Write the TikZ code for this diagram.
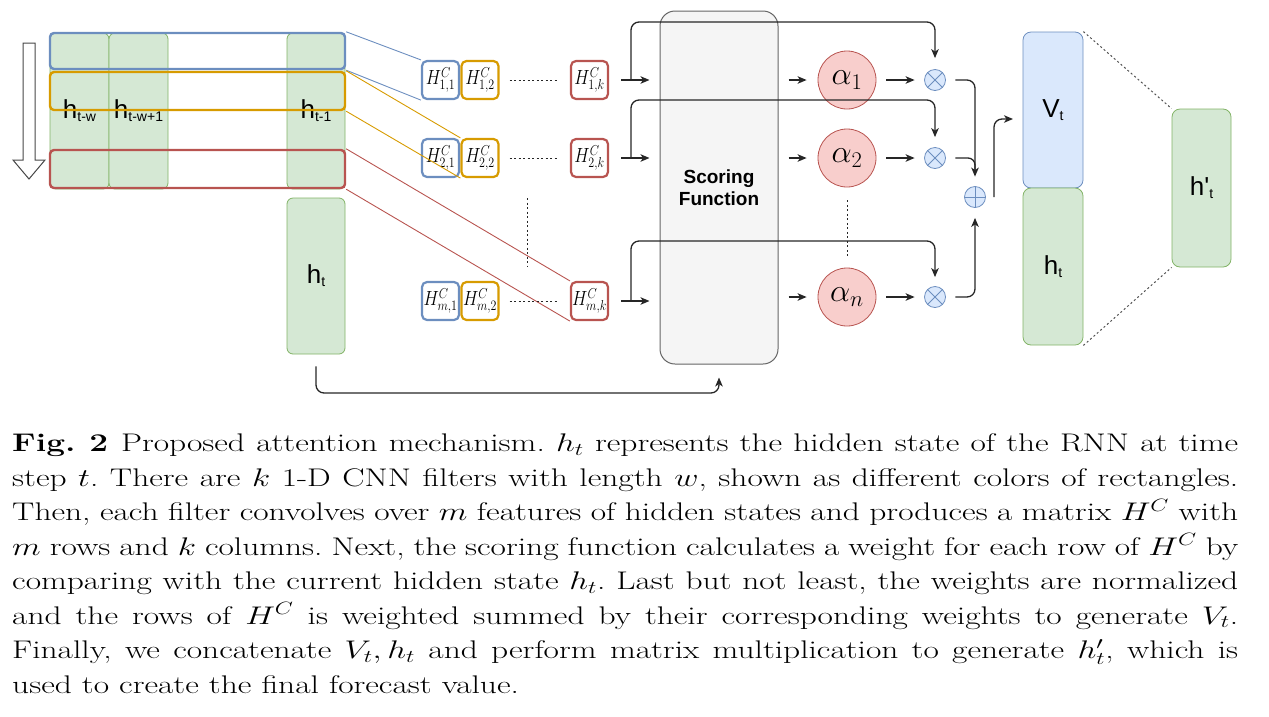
\RequirePackage{fix-cm}
\documentclass[tikz,border=0pt]{standalone}
\usepackage{graphicx}
\usepackage{fontspec}
\newfontfamily\lsans{Liberation Sans}
\newfontfamily\capfont{lmroman17-regular.otf}[BoldFont=lmroman12-bold.otf, ItalicFont=lmroman12-italic.otf, FakeStretch=1.31]
\usetikzlibrary{arrows.meta,calc}
\definecolor{gfill}{HTML}{D5E8D4}\definecolor{gline}{HTML}{82B366}
\definecolor{bfill}{HTML}{DAE8FC}\definecolor{bline}{HTML}{6C8EBF}
\definecolor{rfill}{HTML}{F8CECC}\definecolor{rline}{HTML}{B85450}
\definecolor{oline}{HTML}{D79B00}
\definecolor{sfill}{HTML}{F5F5F5}\definecolor{sline}{HTML}{666666}
\definecolor{ink}{HTML}{262626}
\newcommand{\lsub}[1]{\raisebox{-3pt}{\fontsize{14}{14}\selectfont #1}}
\newcommand{\hclabel}[1]{\scalebox{0.84}[1]{#1}}
\newcommand{\capm}[1]{\scalebox{1.31}[1]{$#1$}}
\begin{document}
\begin{tikzpicture}[x=1pt,y=-1pt,
 colbox/.style={draw=gline, fill=gfill, rounded corners=6pt, minimum width=59pt, minimum height=156pt, inner sep=0pt, line width=0.8pt, font=\lsans\fontsize{26}{26}\selectfont},
 filt/.style={rounded corners=4pt, line width=2.4pt, minimum width=295pt, inner sep=0pt},
 hcbox/.style={fill=white, rounded corners=5pt, line width=2.2pt, minimum width=37pt, minimum height=38pt, inner sep=0pt},
 hclab/.style={label={[inner sep=0pt, font=\fontsize{20.5}{21}\selectfont]center:\hclabel{#1}}},
 linkline/.style={line width=0.9pt},
 ln/.style={draw=ink, line width=1.3pt},
 arr/.style={draw=ink, line width=1.3pt, -{Stealth[length=9pt,width=7.5pt,inset=2.5pt]}},
 dotline/.style={draw=ink, line width=1pt, dash pattern=on 2pt off 2.5pt},
 alphanode/.style={circle, draw=rline, fill=rfill, line width=0.8pt, minimum size=58pt, inner sep=0pt, font=\fontsize{32}{34}\selectfont},
 opnode/.style={circle, draw=bline, fill=bfill, line width=0.8pt, minimum size=21pt, inner sep=0pt},
 crossline/.style={draw=bline, line width=0.8pt},
]
\useasboundingbox (0,0) rectangle (1269,716);

% hidden state columns
\node[colbox] (cA) at (79.5,111) {h\lsub{t-w}};
\node[colbox] (cB) at (138.5,111) {h\lsub{t-w+1}};
\node[colbox, minimum width=58pt] (cC) at (316,111) {h\lsub{t-1}};
\node[colbox, minimum width=58pt] (hL) at (316,276) {h\lsub{t}};

% filters
\node[filt, draw=bline, minimum height=36pt] (fB) at (197.5,51) {};
\node[filt, draw=oline, minimum height=38pt] (fO) at (197.5,91) {};
\node[filt, draw=rline, minimum height=38pt] (fR) at (197.5,169) {};

% hollow down arrow
\draw[draw=ink!85, fill=white, line width=1pt] (23,43) -- (35,43) -- (35,160) -- (45,160) -- (29,179) -- (13,160) -- (23,160) -- cycle;

% H^C boxes
\node[hcbox, draw=bline, hclab={$H^C_{1,1}$}] (h11) at (440.5,80) {};
\node[hcbox, draw=oline, hclab={$H^C_{1,2}$}] (h12) at (480,80) {};
\node[hcbox, draw=rline, hclab={$H^C_{1,k}$}] (h1k) at (589.5,80) {};
\node[hcbox, draw=bline, hclab={$H^C_{2,1}$}] (h21) at (440.5,158) {};
\node[hcbox, draw=oline, hclab={$H^C_{2,2}$}] (h22) at (480,158) {};
\node[hcbox, draw=rline, hclab={$H^C_{2,k}$}] (h2k) at (589.5,158) {};
\node[hcbox, draw=bline, hclab={$H^C_{m,1}$}] (hm1) at (440.5,301) {};
\node[hcbox, draw=oline, hclab={$H^C_{m,2}$}] (hm2) at (480,301) {};
\node[hcbox, draw=rline, hclab={$H^C_{m,k}$}] (hmk) at (589.5,301) {};

% filter links
\draw[linkline, bline] (fB.north east) -- (h11.north west);
\draw[linkline, bline] (fB.south east) -- (h11.south west);
\draw[linkline, oline] (fO.north east) -- (h22.north west);
\draw[linkline, oline] (fO.south east) -- (h22.south west);
\draw[linkline, rline] (fR.north east) -- (hmk.north west);
\draw[linkline, rline] (fR.south east) -- (hmk.south west);

% dotted
\draw[dotline, shorten <=10pt, shorten >=12pt] (h12) -- (h1k);
\draw[dotline, shorten <=10pt, shorten >=12pt] (h22) -- (h2k);
\draw[dotline, shorten <=10pt, shorten >=12pt] (hm2) -- (hmk);
\coordinate (vd1) at (527,198); \coordinate (vd2) at (527,267);
\draw[dotline] (vd1) -- (vd2);

% scoring function
\node[draw=sline, fill=sfill, rounded corners=15pt, minimum width=118pt, minimum height=353pt, line width=1pt, align=center, inner sep=0pt, font=\lsans\bfseries\fontsize{19}{22}\selectfont] (sf) at (719,187.5) {Scoring\\Function};

% alphas and operators
\node[alphanode] (a1) at (847,80) {$\alpha_1$};
\node[alphanode] (a2) at (847,158) {$\alpha_2$};
\node[alphanode] (an) at (847,297) {$\alpha_n$};
\node[opnode] (m1) at (935,80) {};
\node[opnode] (m2) at (935,158) {};
\node[opnode] (mn) at (935,297) {};
\node[opnode] (pl) at (975,197) {};
\foreach \m in {m1,m2,mn}{
  \draw[crossline] (\m.north east) -- (\m.south west) (\m.north west) -- (\m.south east);
}
\draw[crossline] (pl.north) -- (pl.south) (pl.west) -- (pl.east);
\draw[dotline, shorten <=13pt, shorten >=11pt] (a2) -- (an);

% H -> scoring
\draw[arr, shorten <=12pt, shorten >=10pt] (h1k.east) -- (h1k.east -| sf.west);
\draw[arr, shorten <=12pt, shorten >=10pt] (h2k.east) -- (h2k.east -| sf.west);
\draw[arr, shorten <=12pt, shorten >=10pt] (hmk.east) -- (hmk.east -| sf.west);

% branches to multipliers
\coordinate (b1) at (631,80);  \coordinate (r1) at (631,22);
\coordinate (b2) at (631,158); \coordinate (r2) at (631,100);
\coordinate (bn) at (631,301); \coordinate (rn) at (631,241);
\draw[arr, rounded corners=8pt, shorten >=11pt] (b1) -- (r1) -| (m1.north);
\draw[arr, rounded corners=8pt, shorten >=10pt] (b2) -- (r2) -| (m2.north);
\draw[arr, rounded corners=8pt, shorten >=9pt] (bn) -- (rn) -| (mn.north);

% scoring -> alphas -> multipliers
\draw[arr, shorten <=10pt, shorten >=11pt] (sf.east |- a1.west) -- (a1.west);
\draw[arr, shorten <=10pt, shorten >=11pt] (sf.east |- a2.west) -- (a2.west);
\draw[arr, shorten <=10pt, shorten >=11pt] (sf.east |- an.west) -- (an.west);
\draw[arr, shorten <=10pt, shorten >=9.5pt] (a1.east) -- (m1.west);
\draw[arr, shorten <=10pt, shorten >=9.5pt] (a2.east) -- (m2.west);
\draw[arr, shorten <=10pt, shorten >=9.5pt] (an.east) -- (mn.west);

% multipliers -> sum
\coordinate (j2) at (975,172);
\draw[arr, rounded corners=8pt, shorten <=9.5pt, shorten >=9.5pt] (m1.east) -| (pl.north);
\draw[ln, rounded corners=7pt, shorten <=9.5pt] (m2.east) -| (j2);
\draw[arr, rounded corners=8pt, shorten <=9.5pt, shorten >=10pt] (mn.east) -| (pl.south);

% concatenation
\node[draw=bline, fill=bfill, rounded corners=8pt, minimum width=60pt, minimum height=156pt, inner sep=0pt, line width=0.8pt, font=\lsans\fontsize{26}{26}\selectfont] (vt) at (1053,110) {V\lsub{t}};
\node[colbox, rounded corners=8pt, minimum width=60pt, minimum height=157pt] (hR) at (1053,266.5) {h\lsub{t}};
\node[colbox, rounded corners=8pt, minimum width=59pt, minimum height=158pt] (hp) at (1201.5,188) {h\textquotesingle\lsub{t}};
\coordinate (o1) at (994,197); \coordinate (o2) at (1013,119);
\draw[arr, rounded corners=8pt] (o1) |- (o2);
\draw[dotline, draw=ink!80] (vt.north east) -- (hp.north west);
\draw[dotline, draw=ink!80] (hR.south east) -- (hp.south west);

% h_t -> scoring
\coordinate (bt) at (719,393);
\draw[arr, rounded corners=8pt, shorten <=12pt, shorten >=13pt] (hL.south) |- (bt) -- (sf.south);

% caption
\node[anchor=base west, inner sep=0pt] (cap) at (12,451.5) {\parbox[t]{1226pt}{\capfont\fontsize{25.5}{34.5}\selectfont\frenchspacing
\textbf{Fig.~2}\enspace Proposed attention mechanism. \capm{h_t} represents the hidden state of the RNN at time\linebreak
step \capm{t}. There are \capm{k} 1-D CNN filters with length \capm{w}, shown as different colors of rectangles.\linebreak
Then, each filter convolves over \capm{m} features of hidden states and produces a matrix \capm{H^C} with\linebreak
\capm{m} rows and \capm{k} columns. Next, the scoring function calculates a weight for each row of \capm{H^C} by\linebreak
comparing with the current hidden state \capm{h_t}. Last but not least, the weights are normalized\linebreak
and the rows of \capm{H^C} is weighted summed by their corresponding weights to generate \capm{V_t}.\linebreak
Finally, we concatenate \capm{V_t, h_t} and perform matrix multiplication to generate \capm{h'_t}, which is\linebreak
used to create the final forecast value.}};
\end{tikzpicture}
\end{document}
